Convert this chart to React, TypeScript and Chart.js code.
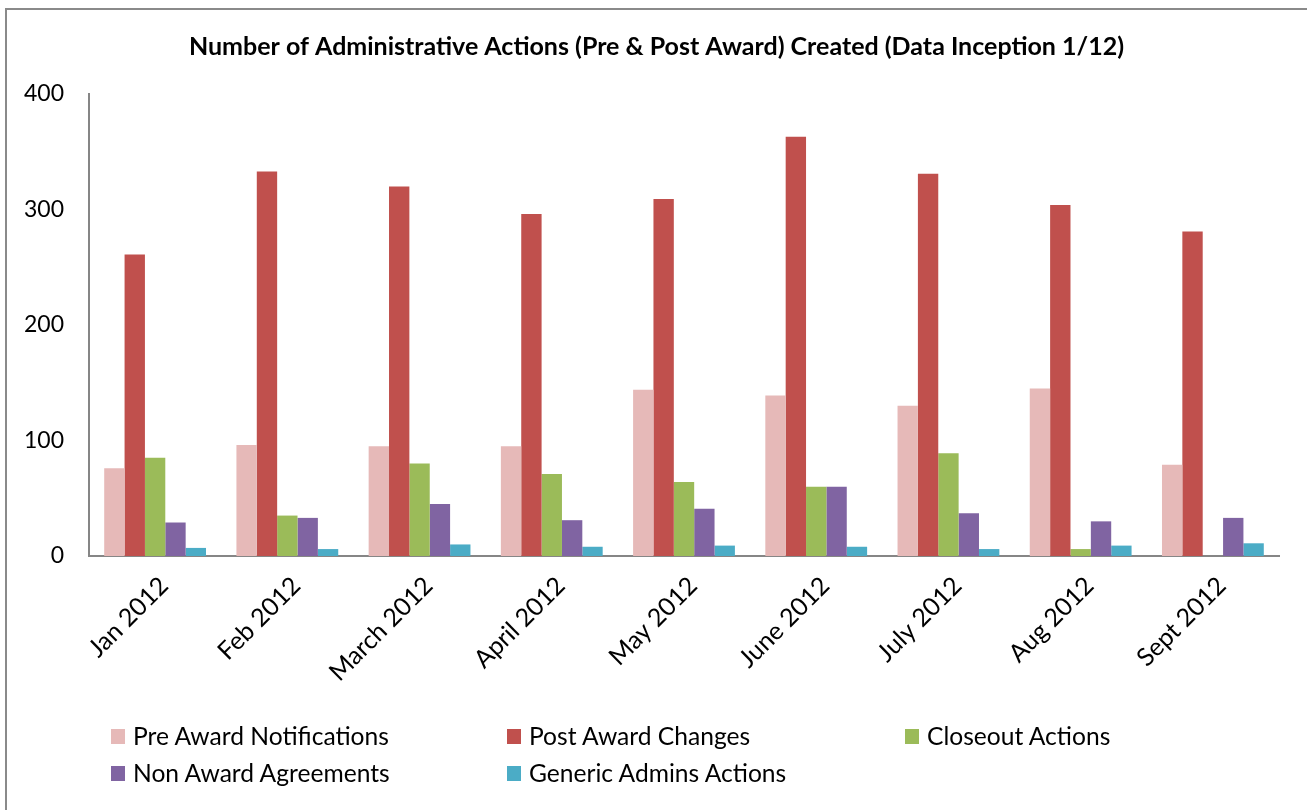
import React, { useEffect, useRef } from "react";
import { Chart, registerables } from "chart.js";

Chart.register(...registerables);

const categories = ["Jan 2012", "Feb 2012", "March 2012", "April 2012", "May 2012", "June 2012", "July 2012", "Aug 2012", "Sept 2012"];
const preAward = [76, 96, 95, 95, 144, 139, 130, 145, 79];
const postAward = [261, 333, 320, 296, 309, 363, 331, 304, 281];
const closeout = [85, 35, 80, 71, 64, 60, 89, 6, 0];
const nonAward = [29, 33, 45, 31, 41, 60, 37, 30, 33];
const generic = [7, 6, 10, 8, 9, 8, 6, 9, 11];
const seriesNames = ["Pre Award Notifications", "Post Award Changes", "Closeout Actions", "Non Award Agreements", "Generic Admins Actions"];
const seriesColors = ["#E6B9B8", "#C0504D", "#9BBB59", "#8064A2", "#4BACC6"];
const titleText = "Number of Administrative Actions (Pre & Post Award) Created (Data Inception 1/12)";
const yTicks = [0, 100, 200, 300, 400];

const FONT = "Lato, 'Open Sans', sans-serif";

export default function App() {
  const ref = useRef<HTMLCanvasElement | null>(null);
  useEffect(() => {
    if (!ref.current) return;
    const values = [preAward, postAward, closeout, nonAward, generic];
    const chart = new Chart(ref.current, {
      type: "bar",
      data: {
        labels: categories,
        datasets: values.map((v, i) => ({
          label: seriesNames[i],
          data: v,
          backgroundColor: seriesColors[i],
          borderWidth: 0,
          categoryPercentage: 0.77,
          barPercentage: 1.0,
        })),
      },
      options: {
        responsive: false,
        animation: false,
        devicePixelRatio: 1,
        layout: { padding: { left: 6, right: 0, top: 0, bottom: 0 } },
        plugins: {
          legend: { display: false },
          tooltip: { enabled: false },
          title: {
            display: true,
            text: titleText,
            color: "#000",
            font: { family: FONT, size: 25, weight: "bold" },
            padding: { top: 32, bottom: 32 },
          },
        },
        scales: {
          x: {
            grid: { display: false, drawTicks: false, tickLength: 0 },
            border: { display: true, color: "#868686", width: 2 },
            ticks: {
              minRotation: 45,
              maxRotation: 45,
              color: "#000",
              font: { family: FONT, size: 25 },
              padding: 15,
              labelOffset: 9,
            },
            afterFit: (s: any) => {
              s.height = 254;
            },
          },
          y: {
            min: 0,
            max: 400,
            afterBuildTicks: (s: any) => {
              s.ticks = yTicks.map((v) => ({ value: v }));
            },
            grid: { display: false, drawTicks: false, tickLength: 0 },
            border: { display: true, color: "#868686", width: 2 },
            ticks: {
              color: "#000",
              font: { family: FONT, size: 23 },
              padding: 25,
            },
            afterFit: (s: any) => {
              s.width = 83;
            },
          },
          yRightSpace: {
            type: "linear",
            position: "right",
            display: true,
            grid: { display: false, drawTicks: false, tickLength: 0 },
            border: { display: false },
            ticks: { display: false },
            afterFit: (s: any) => {
              s.width = 28;
            },
          },
        },
      },
    });
    return () => chart.destroy();
  }, []);

  const legendPos = [
    { x: 111, y: 729 },
    { x: 507, y: 729 },
    { x: 905, y: 729 },
    { x: 111, y: 766 },
    { x: 507, y: 766 },
  ];

  return (
    <div style={{ position: "absolute", left: 0, top: 0, width: 1307, height: 810, overflow: "hidden", background: "#fff" }}>
      <div
        style={{
          position: "absolute",
          left: 5,
          top: 8,
          width: 1400,
          height: 900,
          borderLeft: "2px solid #8a8a8a",
          borderTop: "2px solid #8a8a8a",
        }}
      />
      <canvas ref={ref} width={1307} height={810} style={{ position: "absolute", left: 0, top: 0, width: 1307, height: 810 }} />
      {seriesNames.map((name, i) => (
        <div key={name}>
          <div
            style={{
              position: "absolute",
              left: legendPos[i].x,
              top: legendPos[i].y,
              width: 14,
              height: 15,
              background: seriesColors[i],
            }}
          />
          <div
            style={{
              position: "absolute",
              left: legendPos[i].x + 22,
              top: legendPos[i].y - 6,
              fontFamily: FONT,
              fontSize: 24.6,
              lineHeight: "26px",
              color: "#000",
              whiteSpace: "nowrap",
            }}
          >
            {name}
          </div>
        </div>
      ))}
    </div>
  );
}
